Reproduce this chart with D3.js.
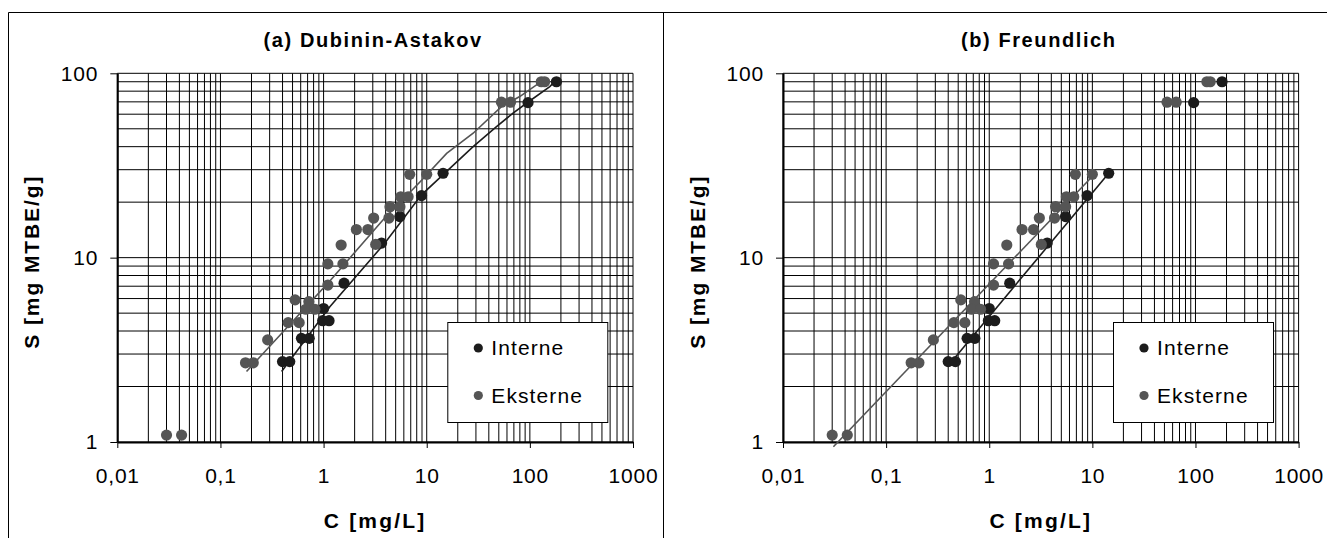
<!DOCTYPE html>
<html lang="en">
<head>
<meta charset="UTF-8">
<title>Isotherms - Dubinin-Astakov / Freundlich</title>
<script src="https://d3js.org/d3.v7.min.js"></script>
<style>
  body { margin: 0; background: #fff; }
  svg text { font-family: "Liberation Sans", Arial, sans-serif; fill: #000; }
</style>
</head>
<body>
<script>
// measured points (C in mg/L, S in mg MTBE/g)
const cInterne = [0.40, 0.47, 0.61, 0.725, 0.98, 1.13, 1.0, 1.58, 3.65, 5.49, 8.9, 14.4, 96, 181];
const sInterne = [2.73, 2.73, 3.65, 3.65, 4.55, 4.55, 5.3, 7.27, 12.0, 16.7, 21.7, 28.7, 69.3, 90];

const cEksterne = [0.030, 0.042, 0.175, 0.208, 0.287, 0.454, 0.58, 0.53, 0.72, 0.673, 0.824, 1.1, 1.1, 1.54,
                   1.48, 3.2, 2.08, 2.69, 3.06, 4.3, 4.4, 5.5, 5.6, 6.6, 6.84, 10.0, 53, 65, 129, 139];
const sEksterne = [1.09, 1.09, 2.69, 2.69, 3.58, 4.44, 4.44, 5.9, 5.77, 5.25, 5.25, 7.1, 9.25, 9.25,
                   11.7, 11.8, 14.2, 14.2, 16.4, 16.4, 18.9, 18.9, 21.4, 21.4, 28.3, 28.3, 69.7, 69.7, 90, 90];

// fitted curves
const daIntC = [0.392, 1.15, 3.93, 8.9, 28.2, 47.5, 68.7, 92.7, 156, 170];
const daIntS = [2.41, 5.42, 12.0, 21.9, 40.0, 51.4, 60.8, 68.8, 84.7, 89];
const daEksC = [0.179, 1.15, 3.76, 9.17, 15.6, 28.2, 53, 79.8, 116, 139];
const daEksS = [2.41, 7.47, 16.0, 26.7, 36.8, 47.3, 66, 74.8, 86.5, 90];

const frIntC = [0.46, 14.4];
const frIntS = [2.85, 28.7];
const frEksC = [0.0308, 10.3];
const frEksS = [0.943, 28.1];

const xMajor = [0.01, 0.1, 1, 10, 100, 1000];
const xMajorLabels = ["0,01", "0,1", "1", "10", "100", "1000"];
const yMajor = [1, 10, 100];
const yMajorLabels = ["1", "10", "100"];

const titles = ["(a) Dubinin-Astakov", "(b) Freundlich"];
const seriesNames = ["Interne", "Eksterne"];
const xTitle = "C [mg/L]";
const yTitle = "S [mg MTBE/g]";

const W = 1327, H = 538;
const colInt = "#1c1c1c", colEks = "#555555";

const svg = d3.select("body").append("svg")
  .attr("width", W).attr("height", H);

// outer frame
svg.append("path")
  .attr("d", `M8.5,${H} V12.5 H${W} M663.5,12.5 V${H}`)
  .attr("fill", "none").attr("stroke", "#000").attr("stroke-width", 1);

const panels = [
  { left: 117.3, right: 633, title: titles[0], fitI: [daIntC, daIntS], fitE: [daEksC, daEksS] },
  { left: 783, right: 1298.6, title: titles[1], fitI: [frIntC, frIntS], fitE: [frEksC, frEksS] }
];

panels.forEach(p => drawPanel(p));

function drawPanel(p) {
  const top = 73.3, bottom = 442;
  const x = d3.scaleLog().domain([0.01, 1000]).range([p.left, p.right]);
  const y = d3.scaleLog().domain([1, 100]).range([bottom, top]);
  const g = svg.append("g");

  // grid, major + minor
  g.append("g").selectAll("line").data(x.ticks()).join("line")
    .attr("x1", d => x(d)).attr("x2", d => x(d))
    .attr("y1", top).attr("y2", bottom)
    .attr("stroke", "#000").attr("stroke-width", 1);
  g.append("g").selectAll("line").data(y.ticks()).join("line")
    .attr("y1", d => y(d)).attr("y2", d => y(d))
    .attr("x1", p.left).attr("x2", p.right)
    .attr("stroke", "#000").attr("stroke-width", 1);

  // axes
  const xAxis = g.append("g").attr("transform", `translate(0,${bottom})`)
    .call(d3.axisBottom(x).tickValues(xMajor).tickFormat((d, i) => xMajorLabels[i])
      .tickSize(6).tickSizeOuter(0).tickPadding(20));
  const yAxis = g.append("g").attr("transform", `translate(${p.left},0)`)
    .call(d3.axisLeft(y).tickValues(yMajor).tickFormat((d, i) => yMajorLabels[i])
      .tickSize(7).tickSizeOuter(0).tickPadding(12));
  [xAxis, yAxis].forEach(a => {
    a.select(".domain").attr("stroke", "#000").attr("stroke-width", 2);
    a.selectAll(".tick line").attr("stroke", "#000");
    a.selectAll(".tick text").attr("font-size", 21).attr("font-family", null)
      .attr("letter-spacing", 0.8);
  });
  xAxis.selectAll(".tick text").attr("dy", "0.71em");

  // fitted lines and points
  const line = d3.line().x(d => x(d[0])).y(d => y(d[1]));
  const series = [
    { c: cInterne, s: sInterne, fit: p.fitI, col: colInt },
    { c: cEksterne, s: sEksterne, fit: p.fitE, col: colEks }
  ];
  series.forEach(sr => {
    g.append("path")
      .datum(d3.zip(sr.fit[0], sr.fit[1]))
      .attr("d", line).attr("fill", "none")
      .attr("stroke", sr.col).attr("stroke-width", 1.6);
    g.append("g").selectAll("circle").data(d3.zip(sr.c, sr.s)).join("circle")
      .attr("cx", d => x(d[0])).attr("cy", d => y(d[1]))
      .attr("r", 5.6).attr("fill", sr.col);
  });

  // titles
  const cx = (p.left + p.right) / 2;
  g.append("text").attr("x", cx - 2).attr("y", 47)
    .attr("text-anchor", "middle").attr("font-weight", "bold")
    .attr("font-size", 20).attr("letter-spacing", 1.6).text(p.title);
  g.append("text").attr("x", cx).attr("y", 528)
    .attr("text-anchor", "middle").attr("font-weight", "bold")
    .attr("font-size", 21).attr("letter-spacing", 2.2).text(xTitle);
  g.append("text")
    .attr("transform", `translate(${p.left - 78},${(top + bottom) / 2 + 4}) rotate(-90)`)
    .attr("text-anchor", "middle").attr("font-weight", "bold")
    .attr("font-size", 21).attr("letter-spacing", 1.9).text(yTitle);

  // legend
  const lx = p.left + 330, ly = 322;
  const lg = g.append("g").attr("transform", `translate(${lx},${ly})`);
  lg.append("rect").attr("x", 0.5).attr("y", 0.5).attr("width", 160).attr("height", 100)
    .attr("fill", "#fff").attr("stroke", "#000").attr("stroke-width", 1);
  [colInt, colEks].forEach((col, i) => {
    lg.append("circle").attr("cx", 31).attr("cy", 26 + i * 47.5).attr("r", 4.6).attr("fill", col);
    lg.append("text").attr("x", 44).attr("y", 33 + i * 47.5)
      .attr("font-size", 21).attr("letter-spacing", 1.1).text(seriesNames[i]);
  });
}
</script>
</body>
</html>
